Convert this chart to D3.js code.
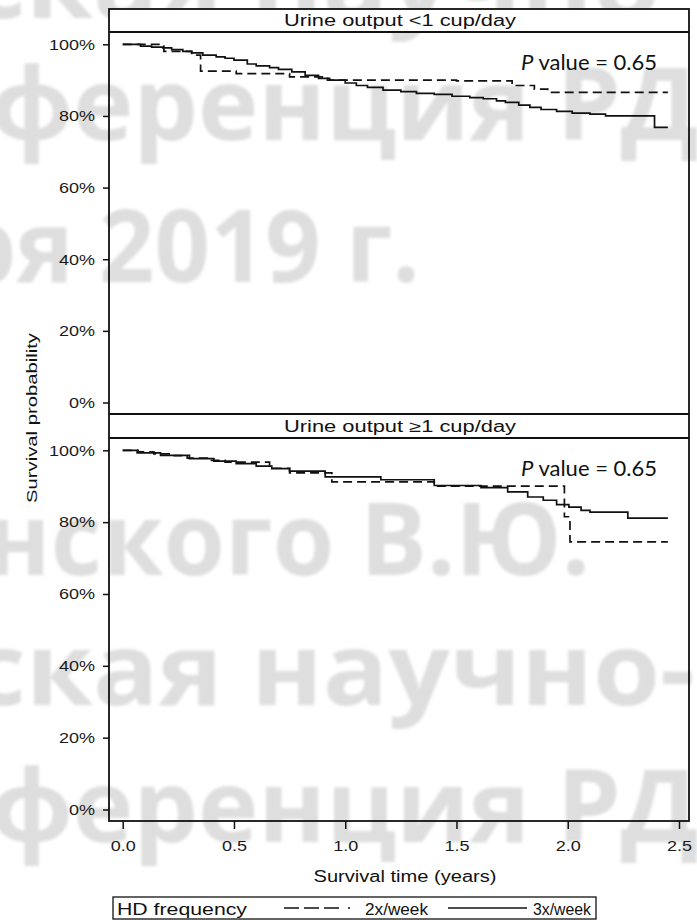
<!DOCTYPE html>
<html>
<head>
<meta charset="utf-8">
<script src="https://cdn.jsdelivr.net/npm/d3@7"></script>
<style>
  body { margin: 0; background: #fff; }
  svg { display: block; }
</style>
</head>
<body>
<svg id="chart" width="697" height="920"></svg>
<script>
// tick values
const xTicks = [0, 0.5, 1, 1.5, 2, 2.5];
const yTicks = [0, 0.2, 0.4, 0.6, 0.8, 1];

// last follow-up time for every curve
const endTime = 2.45;

// Urine output <1 cup/day : [time (years), survival]
const lowTwice = [
  [0, 1.000], [0.185, 0.980], [0.31, 0.970], [0.35, 0.925], [0.51, 0.918],
  [0.75, 0.909], [0.92, 0.900], [1.50, 0.898], [1.75, 0.885], [1.85, 0.875],
  [1.91, 0.866]
];
const lowThrice = [
  [0, 1.000], [0.08, 0.995], [0.13, 0.992], [0.18, 0.990], [0.22, 0.985],
  [0.27, 0.980], [0.31, 0.976], [0.36, 0.970], [0.42, 0.965], [0.46, 0.961],
  [0.50, 0.956], [0.56, 0.945], [0.60, 0.940], [0.66, 0.935], [0.70, 0.930],
  [0.76, 0.923], [0.82, 0.913], [0.88, 0.905], [0.93, 0.900], [1.00, 0.892],
  [1.05, 0.885], [1.10, 0.880], [1.17, 0.872], [1.25, 0.868], [1.32, 0.863],
  [1.40, 0.860], [1.48, 0.855], [1.56, 0.851], [1.62, 0.848], [1.68, 0.842],
  [1.72, 0.838], [1.78, 0.830], [1.83, 0.824], [1.88, 0.818], [1.95, 0.813],
  [2.02, 0.808], [2.10, 0.805], [2.17, 0.800], [2.39, 0.768]
];

// Urine output >=1 cup/day
const highTwice = [
  [0, 1.000], [0.07, 0.996], [0.14, 0.990], [0.22, 0.985], [0.29, 0.978],
  [0.38, 0.972], [0.46, 0.967], [0.66, 0.950], [0.75, 0.937], [0.94, 0.912],
  [1.40, 0.900], [1.985, 0.815], [2.01, 0.745]
];
const highThrice = [
  [0, 1.000], [0.065, 0.993], [0.17, 0.986], [0.30, 0.977], [0.41, 0.970],
  [0.51, 0.963], [0.60, 0.956], [0.67, 0.949], [0.75, 0.942], [0.91, 0.926],
  [1.16, 0.918], [1.40, 0.902], [1.61, 0.896], [1.73, 0.884], [1.82, 0.870],
  [1.89, 0.861], [1.95, 0.849], [2.005, 0.842], [2.06, 0.833], [2.10, 0.828],
  [2.27, 0.811]
];

const panelTitles = ['Urine output <1 cup/day', 'Urine output \u22651 cup/day'];
const pValues = ['0.65', '0.65'];
const seriesNames = ['2x/week', '3x/week'];

const watermark = [
  { text: 'ская научно-', x: -30, y: 18, len: 725 },
  { text: 'ференция РДО', x: -10, y: 140, len: 790 },
  { text: 'ря 2019 г.', x: -45, y: 282, len: 465 },
  { text: 'нского В.Ю.', x: -15, y: 575, len: 605 },
  { text: 'ская научно-', x: -30, y: 705, len: 725 },
  { text: 'ференция РДО', x: -10, y: 842, len: 790 }
];

const svg = d3.select('#chart');
const font = 'Liberation Sans, Arial, sans-serif';

// the source figure is a bit wider than plain Arial, so texts get stretched
const stretch = (sel, k) => sel.each(function () {
  this.setAttribute('textLength', this.getComputedTextLength() * k);
  this.setAttribute('lengthAdjust', 'spacingAndGlyphs');
});

// faint background watermark
svg.append('defs').append('filter').attr('id', 'soft')
  .append('feGaussianBlur').attr('stdDeviation', 1.6);
svg.append('g')
  .attr('filter', 'url(#soft)')
  .selectAll('text')
  .data(watermark)
  .enter()
  .append('text')
  .attr('x', d => d.x)
  .attr('y', d => d.y)
  .attr('textLength', d => d.len)
  .attr('lengthAdjust', 'spacingAndGlyphs')
  .attr('font-family', 'Open Sans, sans-serif')
  .attr('font-weight', 700)
  .attr('font-size', 100)
  .attr('fill', '#dedede')
  .text(d => d.text);

const left = 109, right = 689;
const x = d3.scaleLinear().domain([0, 2.5]).range([122.7, 679]);

const panels = [
  { title: panelTitles[0], p: pValues[0], twice: lowTwice, thrice: lowThrice, head: 9, top: 32, bottom: 414 },
  { title: panelTitles[1], p: pValues[1], twice: highTwice, thrice: highThrice, head: 414, top: 438, bottom: 821 }
];

const line = d3.line().curve(d3.curveStepAfter);

panels.forEach(pn => {
  const y = d3.scaleLinear().domain([0, 1]).range([pn.bottom - 11.5, pn.top + 12.3]);

  // strip header
  svg.append('rect')
    .attr('x', left).attr('y', pn.head)
    .attr('width', right - left).attr('height', pn.top - pn.head)
    .attr('fill', '#fff');
  svg.append('text')
    .attr('x', (left + right) / 2 + 1)
    .attr('y', (pn.head + pn.top) / 2 + 5.5)
    .attr('text-anchor', 'middle')
    .attr('font-family', font)
    .attr('font-size', 16)
    .attr('fill', '#111')
    .attr('textLength', 232)
    .attr('lengthAdjust', 'spacingAndGlyphs')
    .text(pn.title);

  const yAxis = d3.axisLeft(y)
    .tickValues(yTicks)
    .tickFormat(d3.format('.0%'))
    .tickSize(6)
    .tickPadding(8);
  const ga = svg.append('g')
    .attr('transform', 'translate(' + left + ',0)')
    .call(yAxis);
  ga.select('.domain').remove();
  ga.selectAll('line').attr('stroke', '#111').attr('stroke-width', 1.5);
  ga.selectAll('text')
    .attr('font-family', font)
    .attr('font-size', 15)
    .attr('fill', '#1a1a1a')
    .call(stretch, 1.2);

  const curves = [
    { data: pn.twice, dash: '9,5' },
    { data: pn.thrice, dash: null }
  ];
  curves.forEach(c => {
    const pts = c.data.map(d => [x(d[0]), y(d[1])]);
    pts.push([x(endTime), y(c.data[c.data.length - 1][1])]);
    svg.append('path')
      .attr('d', line(pts))
      .attr('fill', 'none')
      .attr('stroke', '#111')
      .attr('stroke-width', 1.7)
      .attr('stroke-dasharray', c.dash);
  });

  const pt = svg.append('text')
    .attr('x', 657)
    .attr('y', pn.top + 38)
    .attr('text-anchor', 'end')
    .attr('font-family', 'Lato, Open Sans, sans-serif')
    .attr('font-size', 22)
    .attr('fill', '#111');
  pt.append('tspan').attr('font-style', 'italic').text('P');
  pt.append('tspan').text(' value = ' + pn.p);
});

// frame and panel separators
svg.append('rect')
  .attr('x', left).attr('y', 9)
  .attr('width', right - left).attr('height', 821 - 9)
  .attr('fill', 'none')
  .attr('stroke', '#111')
  .attr('stroke-width', 1.8);
[32, 414, 438].forEach(v => {
  svg.append('line')
    .attr('x1', left).attr('x2', right)
    .attr('y1', v).attr('y2', v)
    .attr('stroke', '#111')
    .attr('stroke-width', 1.8);
});

// x axis
const xAxis = d3.axisBottom(x)
  .tickValues(xTicks)
  .tickFormat(d3.format('.1f'))
  .tickSize(8)
  .tickPadding(11);
const gx = svg.append('g')
  .attr('transform', 'translate(0,821)')
  .call(xAxis);
gx.select('.domain').remove();
gx.selectAll('line').attr('stroke', '#111').attr('stroke-width', 1.5);
gx.selectAll('text')
  .attr('font-family', font)
  .attr('font-size', 15)
  .attr('fill', '#1a1a1a')
  .call(stretch, 1.2);

// axis titles
svg.append('text')
  .attr('x', 405).attr('y', 882)
  .attr('text-anchor', 'middle')
  .attr('font-family', font)
  .attr('font-size', 16)
  .attr('fill', '#111')
  .attr('textLength', 183)
  .attr('lengthAdjust', 'spacingAndGlyphs')
  .text('Survival time (years)');
svg.append('text')
  .attr('transform', 'translate(37,418) rotate(-90)')
  .attr('text-anchor', 'middle')
  .attr('font-family', font)
  .attr('font-size', 15.5)
  .attr('fill', '#111')
  .attr('textLength', 170)
  .attr('lengthAdjust', 'spacingAndGlyphs')
  .text('Survival probability');

// legend
const lg = svg.append('g');
lg.append('rect')
  .attr('x', 113).attr('y', 897)
  .attr('width', 483).attr('height', 22)
  .attr('fill', '#fff')
  .attr('stroke', '#111')
  .attr('stroke-width', 1.3);
const legendText = (tx, len, s) => lg.append('text')
  .attr('x', tx).attr('y', 914.5)
  .attr('font-family', font).attr('font-size', 17).attr('fill', '#111')
  .attr('textLength', len).attr('lengthAdjust', 'spacingAndGlyphs')
  .text(s);
legendText(117, 130, 'HD frequency');
lg.append('line')
  .attr('x1', 284).attr('x2', 358).attr('y1', 908).attr('y2', 908)
  .attr('stroke', '#111').attr('stroke-width', 1.4).attr('stroke-dasharray', '15,5,15,5,15,9,2');
legendText(365, 63, seriesNames[0]);
lg.append('line')
  .attr('x1', 448).attr('x2', 527).attr('y1', 908).attr('y2', 908)
  .attr('stroke', '#111').attr('stroke-width', 1.4);
legendText(533, 58, seriesNames[1]);
</script>
</body>
</html>
